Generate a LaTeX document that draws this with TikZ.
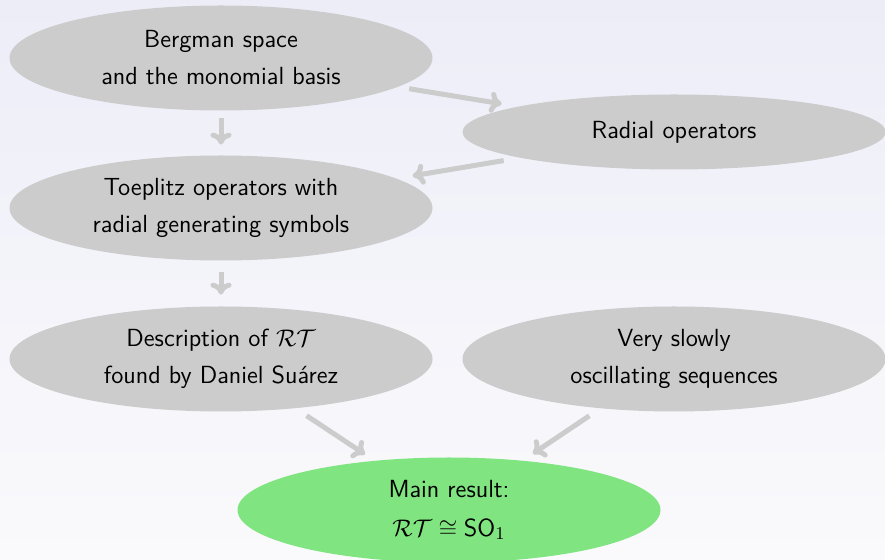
\documentclass[tikz,border=0pt]{standalone}
\usepackage{fontspec}
\usetikzlibrary{shapes.geometric,arrows.meta}
\definecolor{bgtop}{RGB}{237,237,248}
\definecolor{bgbot}{RGB}{250,250,252}
\definecolor{ngray}{RGB}{204,204,204}
\definecolor{ngreen}{RGB}{128,229,128}
\definecolor{agray}{RGB}{204,204,204}
\begin{document}
\begin{tikzpicture}[x=0.5pt,y=-0.5pt,
  every node/.style={font=\sffamily\fontsize{12.4}{18.5}\selectfont},
  topic/.style={ellipse,fill=ngray,draw=none,inner sep=0pt,align=center,
    minimum width=211.5pt,minimum height=52.5pt},
  result/.style={topic,fill=ngreen},
  conn/.style={draw=agray,line width=2.5pt,-{Computer Modern Rightarrow[length=6pt,width=10.5pt]}}]
\useasboundingbox (0,0) rectangle (885,560);
\clip (0,0) rectangle (885,560);
\shade[top color=bgtop,bottom color=bgbot] (0,0) rectangle (885,560);
\node[topic] (b) at (221,58) {Bergman space\\and the monomial basis};
\node[topic,minimum height=37.5pt] (r) at (674,132) {Radial operators};
\node[topic] (t) at (221,208) {Toeplitz operators with\\radial generating symbols};
\node[topic] (d) at (221,359) {Description of $\mathcal{RT}$\\found by Daniel Suárez};
\node[topic] (v) at (674,359) {Very slowly\\oscillating sequences};
\node[result] (m) at (449,510) {Main result:\\[1pt]$\mathcal{RT}\cong\mathsf{SO}_1$};
\draw[conn,shorten <=5.5pt,shorten >=8pt] (b) -- (r);
\draw[conn,shorten <=3.75pt,shorten >=5.25pt] (b) -- (t);
\draw[conn,shorten <=8pt,shorten >=8pt] (r) -- (t);
\draw[conn,shorten <=5.75pt,shorten >=5.75pt] (t) -- (d);
\draw[conn,shorten <=6.5pt,shorten >=5.5pt] (d) -- (m);
\draw[conn,shorten <=6.5pt,shorten >=6pt] (v) -- (m);
\end{tikzpicture}
\end{document}
